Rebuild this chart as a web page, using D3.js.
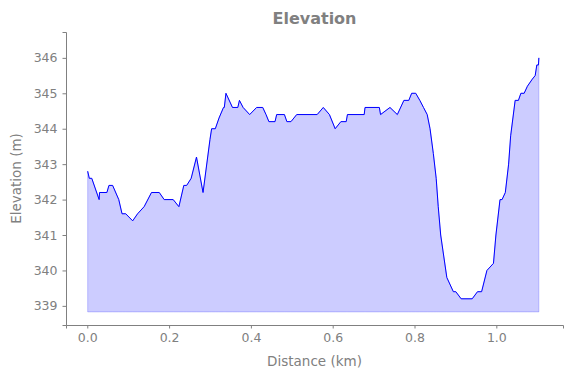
<!DOCTYPE html>
<html lang="en">
  <head>
    <meta charset="UTF-8" />
    <title>Elevation</title>
    <script src="https://cdn.jsdelivr.net/npm/d3@7"></script>
    <style>
      body { margin: 0; background: #fff; }
      text { font-family: "DejaVu Sans", sans-serif; fill: #808080; }
    </style>
  </head>
  <body>
    <div id="wrapper"></div>
    <script>
      // distance along track (km) and elevation (m)
      const distance = [
        0.001, 0.005, 0.011, 0.029, 0.030, 0.048, 0.053, 0.062, 0.077, 0.085,
        0.094, 0.111, 0.123, 0.139, 0.157, 0.176, 0.188, 0.210, 0.224, 0.236,
        0.243, 0.254, 0.267, 0.283, 0.300, 0.304, 0.313, 0.322, 0.333, 0.335,
        0.339, 0.355, 0.368, 0.372, 0.381, 0.397, 0.414, 0.429, 0.437, 0.444,
        0.459, 0.463, 0.482, 0.488, 0.498, 0.512, 0.562, 0.577, 0.592, 0.606,
        0.620, 0.633, 0.636, 0.677, 0.679, 0.714, 0.717, 0.740, 0.758, 0.774,
        0.786, 0.793, 0.803, 0.813, 0.822, 0.831, 0.838, 0.846, 0.853, 0.858,
        0.864, 0.879, 0.895, 0.901, 0.914, 0.941, 0.954, 0.964, 0.977, 0.993,
        0.999, 1.009, 1.014, 1.022, 1.030, 1.035, 1.046, 1.054, 1.060, 1.068,
        1.076, 1.088, 1.095, 1.099, 1.103, 1.104
      ]
      const elevation = [
        342.8, 342.6, 342.6, 342.0, 342.2, 342.2, 342.4, 342.4, 342.0, 341.6,
        341.6, 341.4, 341.6, 341.8, 342.2, 342.2, 342.0, 342.0, 341.8, 342.4,
        342.4, 342.6, 343.2, 342.2, 343.7, 344.0, 344.0, 344.3, 344.6, 344.6,
        345.0, 344.6, 344.6, 344.8, 344.6, 344.4, 344.6, 344.6, 344.4, 344.2,
        344.2, 344.4, 344.4, 344.2, 344.2, 344.4, 344.4, 344.6, 344.4, 344.0,
        344.2, 344.2, 344.4, 344.4, 344.6, 344.6, 344.4, 344.6, 344.4, 344.8,
        344.8, 345.0, 345.0, 344.8, 344.6, 344.4, 344.0, 343.3, 342.6, 341.8,
        341.0, 339.8, 339.4, 339.4, 339.2, 339.2, 339.4, 339.4, 340.0, 340.2,
        341.0, 342.0, 342.0, 342.2, 343.0, 343.8, 344.8, 344.8, 345.0, 345.0,
        345.2, 345.4, 345.5, 345.8, 345.8, 346.0
      ]
      const xTicks = [0, 0.2, 0.4, 0.6, 0.8, 1.0]
      const yTicks = [339, 340, 341, 342, 343, 344, 345, 346]
      const fillBase = 338.83

      const dms = {
        width: 571,
        height: 378,
        margin: { top: 32, left: 66, right: 8, bottom: 53 }
      }
      dms.boundedWidth = dms.width - dms.margin.left - dms.margin.right
      dms.boundedHeight = dms.height - dms.margin.top - dms.margin.bottom

      const data = distance.map((d, i) => ({ d, e: elevation[i] }))

      const svg = d3.select('#wrapper').append('svg')
        .attr('width', dms.width)
        .attr('height', dms.height)

      const g = svg.append('g')
        .attr('transform', `translate(${dms.margin.left},${dms.margin.top})`)

      const xScale = d3.scaleLinear()
        .domain([-0.052, 1.163])
        .range([0, dms.boundedWidth])
      const yScale = d3.scaleLinear()
        .domain([338.46, 346.73])
        .range([dms.boundedHeight, 0])

      const area = d3.area()
        .x(p => xScale(p.d))
        .y0(yScale(fillBase))
        .y1(p => yScale(p.e))
      g.append('path')
        .attr('d', area(data))
        .attr('fill', 'blue')
        .attr('fill-opacity', 0.2)
        .attr('stroke', 'blue')
        .attr('stroke-opacity', 0.2)
        .attr('stroke-width', 1)

      const line = d3.line()
        .x(p => xScale(p.d))
        .y(p => yScale(p.e))
      g.append('path')
        .attr('d', line(data))
        .attr('fill', 'none')
        .attr('stroke', 'blue')
        .attr('stroke-width', 1)

      const xAxis = g.append('g')
        .attr('transform', `translate(0,${dms.boundedHeight})`)
        .call(d3.axisBottom(xScale).tickValues(xTicks).tickFormat(d3.format('.1f'))
          .tickSizeOuter(0).tickSize(3.5).tickPadding(5))
      const yAxis = g.append('g')
        .call(d3.axisLeft(yScale).tickValues(yTicks).tickFormat(d3.format('d'))
          .tickSizeOuter(0).tickSize(3.5).tickPadding(5))

      for (const ax of [xAxis, yAxis]) {
        ax.select('.domain').attr('stroke', '#808080').attr('stroke-width', 1)
        ax.selectAll('.tick line').attr('stroke', '#808080')
        ax.selectAll('.tick text')
          .attr('fill', '#808080')
          .style('font-size', '12.5px')
          .style('font-family', '"DejaVu Sans", sans-serif')
      }

      svg.append('text')
        .attr('x', dms.margin.left + dms.boundedWidth / 2)
        .attr('y', 24)
        .attr('text-anchor', 'middle')
        .style('font-size', '16px')
        .style('font-weight', 'bold')
        .text('Elevation')

      svg.append('text')
        .attr('x', dms.margin.left + dms.boundedWidth / 2)
        .attr('y', 366)
        .attr('text-anchor', 'middle')
        .style('font-size', '13.5px')
        .text('Distance (km)')

      svg.append('text')
        .attr('transform', `translate(21,${dms.margin.top + dms.boundedHeight / 2}) rotate(-90)`)
        .attr('text-anchor', 'middle')
        .style('font-size', '13.5px')
        .text('Elevation (m)')
    </script>
  </body>
</html>
